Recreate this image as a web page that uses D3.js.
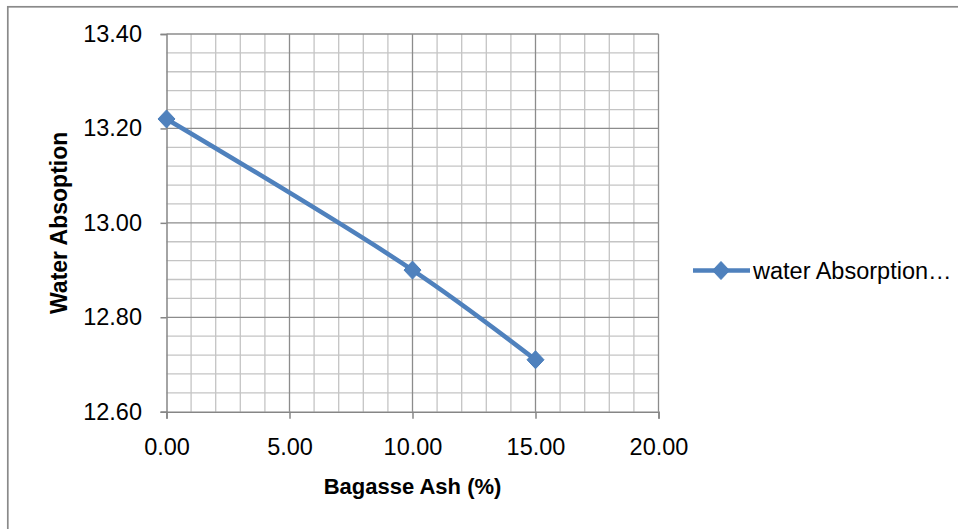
<!DOCTYPE html>
<html>
<head>
<meta charset="utf-8">
<script src="https://cdn.jsdelivr.net/npm/d3@7"></script>
<style>
  html, body { margin: 0; padding: 0; background: #fff; }
  svg { display: block; font-family: "Liberation Sans", Arial, sans-serif; }
</style>
</head>
<body>
<svg id="chart" width="958" height="529"></svg>
<script>
// Water absorption against bagasse ash content
const ashPercent = [0, 10, 15];
const waterAbsorption = [13.22, 12.90, 12.71];
const seriesName = "water Absorption…";
const xTicks = [0, 5, 10, 15, 20];
const yTicks = [12.6, 12.8, 13.0, 13.2, 13.4];

const svg = d3.select("#chart");
const plot = { left: 166.5, right: 658.5, top: 34, bottom: 411.7 };

const x = d3.scaleLinear().domain([0, 20]).range([plot.left, plot.right]);
const y = d3.scaleLinear().domain([12.6, 13.4]).range([plot.bottom, plot.top]);

// outer chart frame
svg.append("rect")
  .attr("x", 7.8).attr("y", 6.8)
  .attr("width", 1000).attr("height", 600)
  .attr("fill", "none").attr("stroke", "#8a8a8a").attr("stroke-width", 1.7);

const grid = svg.append("g");

// minor gridlines
const xMinor = d3.range(1, 20).filter(v => v % 5 !== 0);
const yMinor = d3.range(1, 20).map(i => 12.6 + i * 0.04).filter((v, i) => (i + 1) % 5 !== 0);
grid.selectAll(".xm").data(xMinor).join("line")
  .attr("x1", d => x(d)).attr("x2", d => x(d))
  .attr("y1", plot.top).attr("y2", plot.bottom)
  .attr("stroke", "#c4c4c4").attr("stroke-width", 1.3);
grid.selectAll(".ym").data(yMinor).join("line")
  .attr("x1", plot.left).attr("x2", plot.right)
  .attr("y1", d => y(d)).attr("y2", d => y(d))
  .attr("stroke", "#c4c4c4").attr("stroke-width", 1.3);

// major gridlines
grid.selectAll(".xM").data(xTicks.slice(1)).join("line")
  .attr("x1", d => x(d)).attr("x2", d => x(d))
  .attr("y1", plot.top).attr("y2", plot.bottom)
  .attr("stroke", "#8c8c8c").attr("stroke-width", 1.3);
grid.selectAll(".yM").data(yTicks.slice(1)).join("line")
  .attr("x1", plot.left).attr("x2", plot.right)
  .attr("y1", d => y(d)).attr("y2", d => y(d))
  .attr("stroke", "#8c8c8c").attr("stroke-width", 1.3);

// axes
const xAxis = d3.axisBottom(x).tickValues(xTicks).tickFormat(d3.format(".2f"))
  .tickSize(7).tickPadding(19.5);
const yAxis = d3.axisLeft(y).tickValues(yTicks).tickFormat(d3.format(".2f"))
  .tickSize(6).tickPadding(18.5);

const gx = svg.append("g").attr("transform", `translate(0,${plot.bottom})`).call(xAxis);
const gy = svg.append("g").attr("transform", `translate(${plot.left},0)`).call(yAxis);
[gx, gy].forEach(g => {
  g.select(".domain").attr("stroke", "#868686").attr("stroke-width", 1.5);
  g.selectAll(".tick line").attr("stroke", "#868686").attr("stroke-width", 1.5);
  g.selectAll("text").attr("fill", "#000").style("font-size", "23.5px")
    .style("font-family", "'Liberation Sans', Arial, sans-serif");
});

// axis titles
svg.append("text")
  .attr("x", (plot.left + plot.right) / 2).attr("y", 494)
  .attr("text-anchor", "middle")
  .style("font-size", "22px").style("font-weight", "bold")
  .text("Bagasse Ash (%)");
svg.append("text")
  .attr("transform", `translate(67,${(plot.top + plot.bottom) / 2}) rotate(-90)`)
  .attr("text-anchor", "middle")
  .style("font-size", "23px").style("font-weight", "bold")
  .text("Water Absoption");

// data series
const points = ashPercent.map((a, i) => [a, waterAbsorption[i]]);
const blue = "#4f81bd";
const line = d3.line().x(d => x(d[0])).y(d => y(d[1])).curve(d3.curveCatmullRom.alpha(0.5));
svg.append("path").datum(points)
  .attr("d", line).attr("fill", "none")
  .attr("stroke", blue).attr("stroke-width", 4.5).attr("stroke-linejoin", "round");

// diamond marker, slightly taller than wide
const diamond = "M0,-9L8.5,0L0,9L-8.5,0Z";
svg.selectAll(".marker").data(points).join("path")
  .attr("transform", d => `translate(${x(d[0])},${y(d[1])})`)
  .attr("d", diamond)
  .attr("fill", blue).attr("stroke", "#4a7ebb").attr("stroke-width", 1);

// legend
const lg = svg.append("g").attr("transform", "translate(693,270.5)");
lg.append("line").attr("x1", 0).attr("x2", 57).attr("y1", 0).attr("y2", 0)
  .attr("stroke", blue).attr("stroke-width", 4.5);
lg.append("path").attr("transform", "translate(28,0)").attr("d", diamond)
  .attr("fill", blue).attr("stroke", "#4a7ebb").attr("stroke-width", 1);
lg.append("text").attr("x", 60).attr("y", 8)
  .style("font-size", "23.5px").attr("fill", "#000")
  .text(seriesName);
</script>
</body>
</html>
